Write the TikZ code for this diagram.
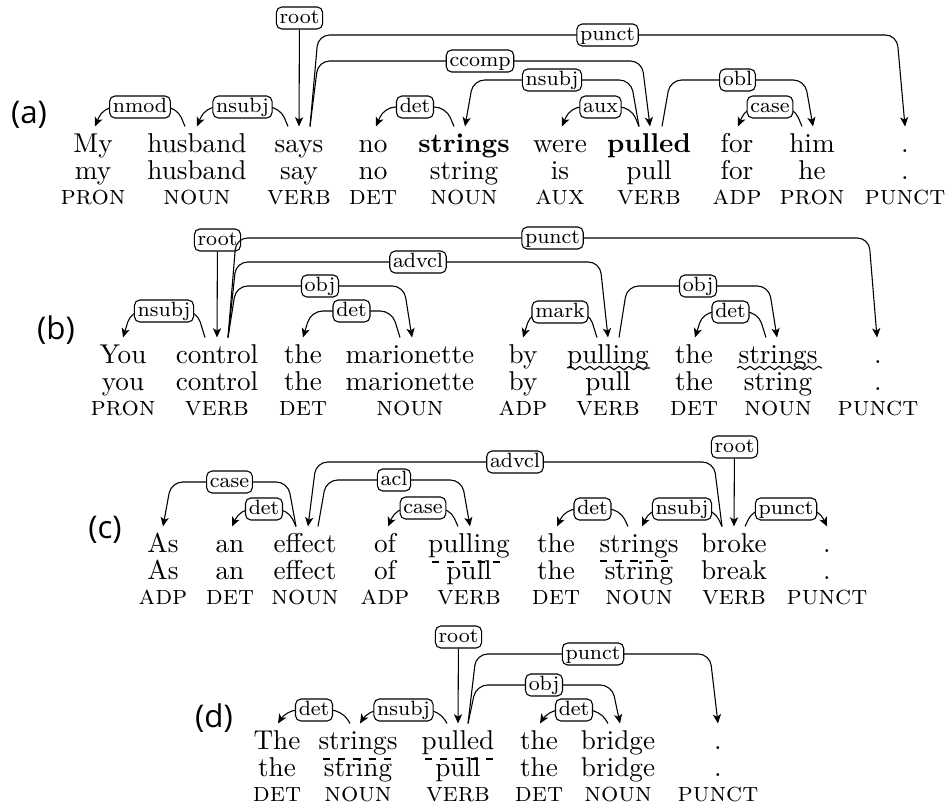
\documentclass[tikz,border=0pt]{standalone}
\usepackage{fontspec}
\newfontfamily\panelfont{Open Sans}
\usetikzlibrary{calc,arrows.meta,decorations.pathmorphing}
\newcommand\wcol[6]{%
  \node[word] (#1) at (#2,#3) {#4};
  \node[lem] (#1l) at (#2,#3+27) {#5};
  \node[postag] (#1p) at (#2,#3+52) {#6};}
\newcommand\dep[7]{%
  \draw[deparc] let \p1=($(#2.north)+(#3,0)$), \p2=($(#4.north)+(#5,0)$), \p3=(0,#6),
    \n1={ifthenelse(\x2>\x1,1,-1)} in
    (\p1) -- ({\x1+\n1*3pt},\y3) -- node[deplabel] (#1) {#7} ({\x2-\n1*3pt},\y3) -- (\p2);}
\newcommand\rootdep[4]{%
  \node[deplabel] (#1) at (#3,#4) {root};
  \draw[deparc] (#1) -- (#2.north);}
\begin{document}
\begin{tikzpicture}[x=0.3676pt,y=-0.3676pt,
 word/.style={anchor=base,inner sep=0pt,text height=9.19pt,font=\fontsize{10}{12}\selectfont},
 lem/.style={anchor=base,inner sep=0pt,font=\fontsize{10}{12}\selectfont},
 postag/.style={anchor=base,inner sep=0pt,font=\fontsize{10}{12}\selectfont\scshape},
 deplabel/.style={draw,fill=white,rounded corners=2pt,inner xsep=1.2pt,inner ysep=0.7pt,
   text height=5.2pt,text depth=1.5pt,font=\fontsize{7.6}{8}\selectfont},
 deparc/.style={draw,-{Stealth[length=3.4pt,width=3pt,inset=0.9pt]},rounded corners=4.2pt},
 panel/.style={font=\panelfont\fontsize{11.5}{13}\selectfont,inner sep=0pt},
 wave/.style={decorate,decoration={snake,amplitude=0.6pt,segment length=3.6pt}},
 dashline/.style={dash pattern=on 2.6pt off 3pt}]
\useasboundingbox (0,0) rectangle (945,808);

% ---------------- (a)
\node[panel] (pa) at (29,115) {(a)};
\wcol{a1}{93}{152}{My}{my}{pron}
\wcol{a2}{197}{152}{husband}{husband}{noun}
\wcol{a3}{299}{152}{says}{say}{verb}
\wcol{a4}{373}{152}{no}{no}{det}
\wcol{a5}{464}{152}{\textbf{strings}}{string}{noun}
\wcol{a6}{560}{152}{were}{is}{aux}
\wcol{a7}{649}{152}{\textbf{pulled}}{pull}{verb}
\wcol{a8}{737}{152}{for}{for}{adp}
\wcol{a9}{812}{152}{him}{he}{pron}
\wcol{a10}{905}{152}{.}{.}{punct}
\dep{la1}{a2}{-12}{a1}{2}{107}{nmod}
\dep{la2}{a3}{-11}{a2}{0}{107}{nsubj}
\rootdep{la3}{a3}{299.5}{18}
\dep{la4}{a3}{11}{a10}{0}{35}{punct}
\dep{la5}{a3}{11}{a7}{1}{61}{ccomp}
\dep{la6}{a7}{-10}{a5}{1}{80}{nsubj}
\dep{la7}{a5}{-10}{a4}{3}{107}{det}
\dep{la8}{a7}{-10}{a6}{2}{107}{aux}
\dep{la9}{a7}{13}{a9}{1}{80}{obl}
\dep{la10}{a9}{-10}{a8}{1}{107}{case}

% ---------------- (b)
\node[panel] (pb) at (56,330) {(b)};
\wcol{b1}{123}{363}{You}{you}{pron}
\wcol{b2}{217}{363}{control}{control}{verb}
\wcol{b3}{303}{363}{the}{the}{det}
\wcol{b4}{410}{363}{marionette}{marionette}{noun}
\wcol{b5}{523}{363}{by}{by}{adp}
\wcol{b6}{608}{363}{pulling}{pull}{verb}
\wcol{b7}{694}{363}{the}{the}{det}
\wcol{b8}{778}{363}{strings}{string}{noun}
\wcol{b9}{878}{363}{.}{.}{punct}
\dep{lb1}{b2}{-12}{b1}{0}{311}{nsubj}
\rootdep{lb2}{b2}{217.5}{240}
\dep{lb3}{b2}{11}{b9}{-1}{238}{punct}
\dep{lb4}{b2}{11}{b6}{0}{262}{advcl}
\dep{lb5}{b2}{11}{b4}{2}{286}{obj}
\dep{lb6}{b4}{-10}{b3}{0}{311}{det}
\dep{lb7}{b6}{-11}{b5}{0}{312}{mark}
\dep{lb8}{b6}{11}{b8}{-1}{286}{obj}
\dep{lb9}{b8}{-12}{b7}{1}{312}{det}
\draw[wave] (567,368) -- (650,368);
\draw[wave] (737,368) -- (822,368);

% ---------------- (c)
\node[panel] (pc) at (105,530) {(c)};
\wcol{c1}{163}{552}{As}{As}{adp}
\wcol{c2}{230}{552}{an}{an}{det}
\wcol{c3}{305}{552}{effect}{effect}{noun}
\wcol{c4}{385}{552}{of}{of}{adp}
\wcol{c5}{469}{552}{pulling}{pull}{verb}
\wcol{c6}{556}{552}{the}{the}{det}
\wcol{c7}{639}{552}{strings}{string}{noun}
\wcol{c8}{734}{552}{broke}{break}{verb}
\wcol{c9}{827}{552}{.}{.}{punct}
\dep{lc1}{c3}{-9}{c1}{0}{482}{case}
\dep{lc2}{c3}{-9}{c2}{2}{509}{det}
\dep{lc3}{c8}{-12}{c3}{3}{462}{advcl}
\dep{lc4}{c3}{13}{c5}{1}{480}{acl}
\dep{lc5}{c5}{-11}{c4}{3}{508}{case}
\dep{lc6}{c7}{-11}{c6}{1}{509}{det}
\dep{lc7}{c8}{-12}{c7}{3}{509}{nsubj}
\rootdep{lc8}{c8}{734.5}{447}
\dep{lc9}{c8}{11}{c9}{0}{509}{punct}
\draw[dashline] (432,562) -- (502,562);
\draw[dashline] (600,561) -- (675,561);

% ---------------- (d)
\node[panel] (pd) at (214,718) {(d)};
\wcol{d1}{277}{749}{The}{the}{det}
\wcol{d2}{358}{749}{strings}{string}{noun}
\wcol{d3}{458}{749}{pulled}{pull}{verb}
\wcol{d4}{539}{749}{the}{the}{det}
\wcol{d5}{618}{749}{bridge}{bridge}{noun}
\wcol{d6}{718}{749}{.}{.}{punct}
\dep{ld1}{d2}{-8}{d1}{1}{710}{det}
\dep{ld2}{d3}{-11}{d2}{2}{710}{nsubj}
\rootdep{ld3}{d3}{458.5}{637}
\dep{ld4}{d3}{10}{d6}{0}{654}{punct}
\dep{ld5}{d3}{10}{d5}{2}{685}{obj}
\dep{ld6}{d5}{-10}{d4}{1}{710}{det}
\draw[dashline] (323,759) -- (393,759);
\draw[dashline] (425,759) -- (495,759);
\end{tikzpicture}
\end{document}
